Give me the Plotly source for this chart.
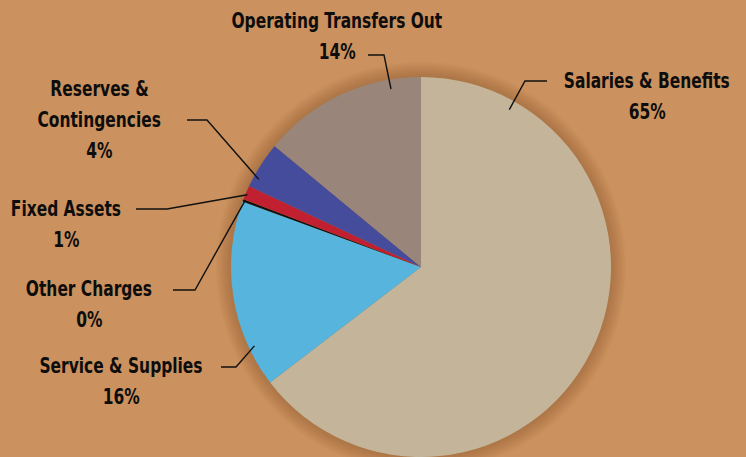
import math
import plotly.graph_objects as go

# ---- data ----
categories = ["Salaries & Benefits", "Service & Supplies", "Other Charges",
              "Fixed Assets", "Reserves & Contingencies", "Operating Transfers Out"]
values = [64.6, 16.0, 0.2, 1.2, 4.0, 14.0]
label_lines = [["Salaries & Benefits"], ["Service & Supplies"], ["Other Charges"],
               ["Fixed Assets"], ["Reserves &", "Contingencies"], ["Operating Transfers Out"]]
colors = ["#C4B59A", "#56B4DD", "#111111", "#C0202F", "#454C9C", "#998579"]

# ---- layout parameters (pixels) ----
W, H = 746, 457
R = 190
CX, CY = 421, 77 + R
BG = "#CB915E"
FONT = "DejaVu Sans Condensed, Liberation Sans Narrow, sans-serif"
FS = 21.5
LINE_GAP = 31

# label block: (center x, first line y)
label_pos = [(647, 80), (121, 365), (89, 288), (66, 208), (99, 88), (337, 20)]
# leader: (start x, start y), (elbow x, elbow y), fraction along slice, radius factor
leaders = [
    ((547, 81), (525, 81), 0.126, 0.95),
    ((221, 367), (236, 367), 0.21, 0.97),
    ((173, 290), (195, 290), 0.5, 0.99),
    ((136, 209), (167, 209), 0.4, 0.99),
    ((187, 120), (207, 120), 0.22, 0.97),
    ((368, 55), (384, 55), 0.81, 0.95),
]

fig = go.Figure()

fig.add_trace(go.Pie(
    labels=categories, values=values, sort=False, direction="clockwise",
    rotation=0, textinfo="none", hoverinfo="label+percent",
    marker=dict(colors=colors, line=dict(width=0)),
    domain=dict(x=[(CX - R) / W, (CX + R) / W], y=[0, (2 * R) / H]),
    showlegend=False,
))

shapes = []
# soft shadow around pie
for i in range(10, 0, -1):
    r = R + i * 1.5
    shapes.append(dict(type="circle", xref="x", yref="y", layer="below",
                       x0=CX - r, x1=CX + r, y0=CY - r, y1=CY + r,
                       fillcolor="rgba(80,45,15,0.025)", line=dict(width=0)))

annotations = []
total = sum(values)
start = 0.0
for i, v in enumerate(values):
    width = v / total * 360.0
    (sx, sy), (ex, ey), frac, rf = leaders[i]
    ang = math.radians(start + frac * width)
    ax = CX + R * rf * math.sin(ang)
    ay = CY - R * rf * math.cos(ang)
    shapes.append(dict(type="path", xref="x", yref="y", layer="above",
                       path=f"M {sx},{sy} L {ex},{ey} L {ax:.1f},{ay:.1f}",
                       line=dict(color="#111111", width=1.4)))
    lx, ly = label_pos[i]
    lines = label_lines[i] + [f"{round(v / total * 100)}%"]
    for j, t in enumerate(lines):
        annotations.append(dict(x=lx, y=ly + j * LINE_GAP, xref="x", yref="y",
                                text=f"<b>{t}</b>", showarrow=False,
                                xanchor="center", yanchor="middle",
                                font=dict(family=FONT, size=FS, color="#0d0d0d")))
    start += width

fig.update_layout(
    width=W, height=H,
    margin=dict(l=0, r=0, t=0, b=0),
    paper_bgcolor=BG, plot_bgcolor=BG,
    xaxis=dict(range=[0, W], visible=False, fixedrange=True),
    yaxis=dict(range=[H, 0], visible=False, fixedrange=True),
    shapes=shapes, annotations=annotations,
)

# narrow the bold labels horizontally to resemble a condensed typeface
post = """
document.body.style.margin='0';document.body.style.overflow='hidden';
document.querySelectorAll('.annotation-text').forEach(function(e){
  e.style.transformBox='fill-box';
  e.style.transformOrigin='center';
  e.style.transform='scaleX(0.8)';
});
"""
fig.write_html("out.html", config={"displayModeBar": False}, post_script=post)
